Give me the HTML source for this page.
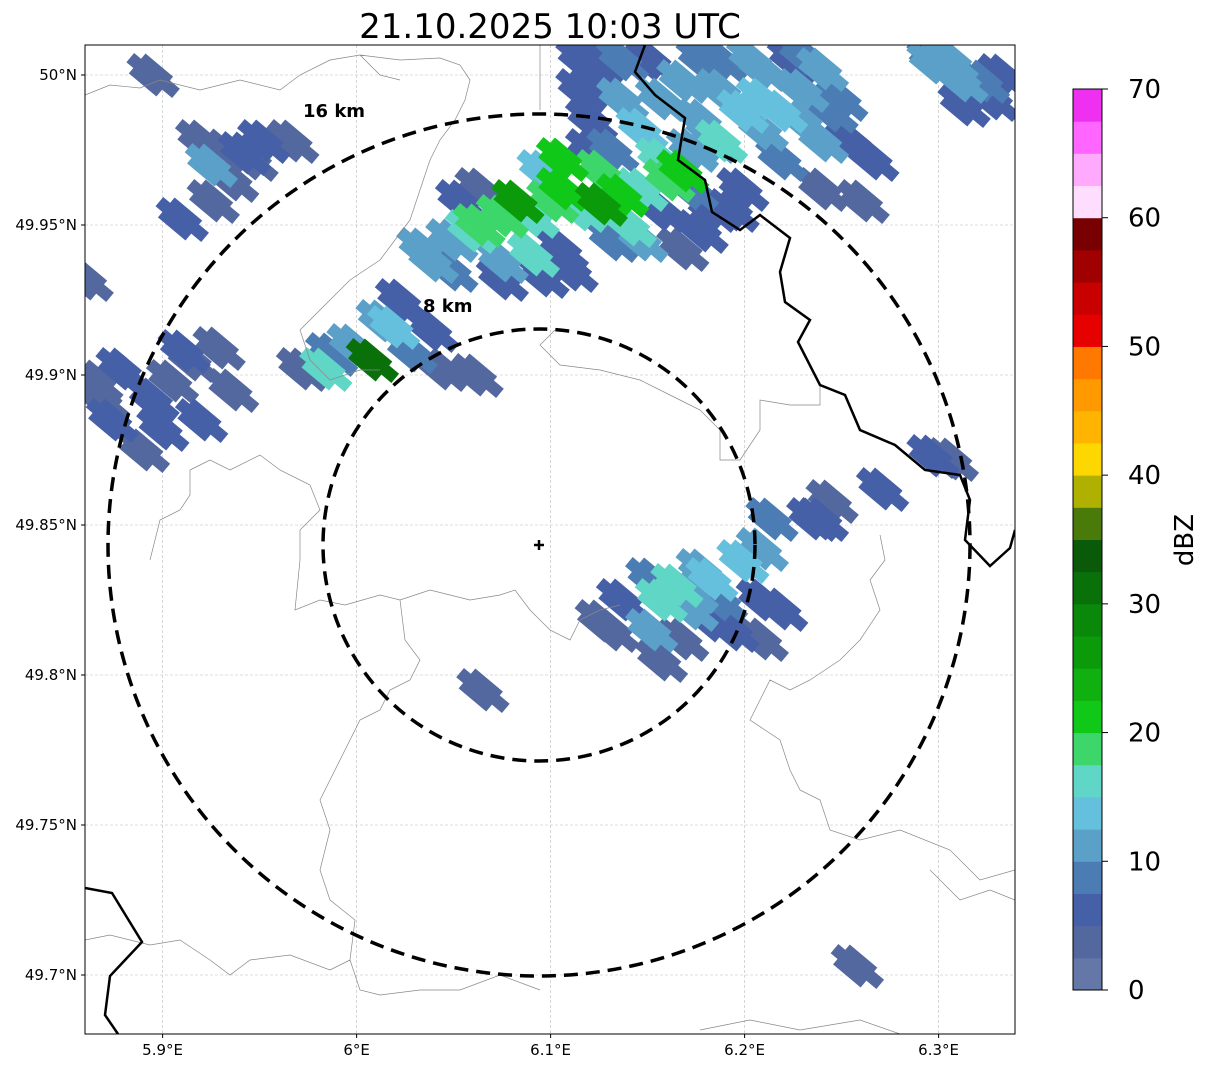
<!DOCTYPE html>
<html><head><meta charset="utf-8">
<style>
html,body{margin:0;padding:0;background:#fff;}
body{width:1207px;height:1069px;overflow:hidden;font-family:"DejaVu Sans","Liberation Sans",sans-serif;}
svg text{font-family:"DejaVu Sans","Liberation Sans",sans-serif;}
</style></head>
<body>
<svg id="chart" width="1207" height="1069" xmlns="http://www.w3.org/2000/svg">
<text x="550" y="38" font-size="34" text-anchor="middle">21.10.2025 10:03 UTC</text>
<defs><clipPath id="mapclip"><rect x="85" y="45" width="930" height="989"/></clipPath></defs>
<g id="grid"></g>
<g id="cells" clip-path="url(#mapclip)"></g>
<g clip-path="url(#mapclip)" fill="none">
<path stroke="#888" stroke-width="0.7" d="M85,95 L110,85 L140,88 L160,80 L200,90 L240,80 L280,90 L300,75 L330,60 L360,55 L400,60 L440,58 L460,65 L470,80 L465,100 L455,120 L440,140 L430,160 L420,190 L410,220 L395,240 L380,260 L350,280 L330,300 L300,330 L310,360 L330,380 L360,370 L380,370 M360,55 L380,75 L400,80 M540,45 L540,110 M555,330 L540,345 L560,365 L600,370 L640,380 L680,400 L700,410 L720,430 L720,460 L740,460 L760,430 L760,400 L790,405 L820,405 L820,385 M190,470 L210,460 L230,470 L260,455 L280,470 L310,485 L320,510 L300,530 L300,560 L295,610 L320,600 L345,605 L380,595 L400,600 L430,590 L470,600 L500,595 L515,590 L530,610 L550,630 L570,640 L580,620 L600,610 L620,605 M190,470 L190,495 L180,510 L160,520 L150,560 M400,600 L405,640 L420,660 L410,680 L390,690 L380,710 L360,720 L350,740 L340,760 L330,780 L320,800 L330,830 L320,870 L330,900 L355,920 L350,960 L360,990 L380,995 L420,990 L460,990 L500,975 L540,990 M760,700 L750,720 L780,740 L790,770 L800,790 L820,800 L830,830 L860,840 L900,830 L950,850 L980,880 L1015,870 M85,940 L110,935 L150,945 L180,940 L210,960 L230,975 L250,960 L290,955 L330,970 L350,960 M700,1030 L750,1020 L800,1030 L860,1020 L900,1034 M880,535 L885,560 L870,580 L880,610 L860,640 L840,660 L810,680 L790,690 L770,680 L760,700 M930,870 L960,900 L990,890 L1015,900"/>
<path stroke="#000" stroke-width="2.5" d="M645,45 L635,72 L655,95 L685,118 L678,160 L705,180 L712,212 L740,230 L760,215 L790,238 L780,272 L785,302 L810,320 L798,342 L820,385 L845,395 L860,430 L895,445 L925,470 L960,475 L970,500 L965,540 L990,566 L1010,548 L1015,530"/>
<path stroke="#000" stroke-width="2.5" d="M85,888 L112,893 L142,942 L110,976 L105,1015 L118,1034"/>
</g>
<g id="rings" fill="none" stroke="#000" stroke-width="3.5" stroke-dasharray="14,8">
<circle cx="539" cy="545" r="216"/>
<circle cx="539" cy="545" r="431"/>
</g>
<text x="303" y="117" font-size="18" font-weight="bold">16 km</text>
<text x="423" y="312" font-size="18" font-weight="bold">8 km</text>
<g stroke="#000" stroke-width="2.5"><line x1="534" y1="545" x2="544" y2="545"/><line x1="539" y1="540" x2="539" y2="550"/></g>
<rect x="85" y="45" width="930" height="989" fill="none" stroke="#000" stroke-width="1"/>
<g id="axes"></g>
<g id="cbar"></g>
</svg>
<script>
const lonTicks=[5.9,6.0,6.1,6.2,6.3];
const lonLabels=["5.9°E","6°E","6.1°E","6.2°E","6.3°E"];
const latTicks=[50.0,49.95,49.9,49.85,49.8,49.75,49.7];
const latLabels=["50°N","49.95°N","49.9°N","49.85°N","49.8°N","49.75°N","49.7°N"];
const cbTicks=[0,10,20,30,40,50,60,70];
const cbColors=["#6478a8","#5468a0","#4660a8","#4c7cb4","#5aa0c8","#64c0dc","#60d6c6","#3cd66a","#10c818","#10b010","#0a9a0a","#0a880a","#0a700a","#0a5a0a","#4a7a0a","#b0b000","#ffd700","#ffb400","#ff9900","#ff7800","#e60000","#c80000","#a00000","#780000","#ffddff","#ffaaff","#ff66ff","#f030f0"];
const cellLon=[6.048,6.058,6.074,6.082,6.090,6.100,6.105,6.115,6.125,6.136,6.146,6.125,6.105,6.095,6.156,6.167,6.172,6.187,6.177,6.198,6.208,6.218,6.229,6.239,6.244,6.254,6.218,6.198,6.182,6.167,6.146,6.105,6.074,6.053,6.063,6.038,6.125,6.151,6.177,6.203,6.229,6.136,6.156,6.120,6.146,6.131,6.115,6.208,6.239,6.265,6.172,6.306,6.322,6.332,6.296,6.312,6.012,5.997,5.986,5.971,5.983,6.007,6.027,6.038,6.043,6.022,6.061,6.018,5.868,5.873,5.894,5.904,5.899,5.919,5.914,5.889,5.935,5.860,5.929,5.951,5.935,5.925,5.909,5.894,5.966,5.924,5.941,6.136,6.151,6.156,6.172,6.177,6.187,6.198,6.208,6.167,6.151,6.131,6.208,6.218,6.234,6.244,6.213,6.156,6.193,6.270,6.296,6.306,6.164,6.182,6.064,6.257,6.090,6.062,6.110,6.140,6.160,6.182,
6.125,6.136,6.167,6.187,6.208,6.229,6.249,6.187,6.115,6.120,6.156,6.177,6.193,6.239,6.260,6.224,6.074,6.095,6.131,6.048,6.033,5.865,5.878,5.910,5.928,5.945,5.919,6.125,6.172,6.182,6.208,6.239,6.311,6.327,6.296];
const cellLat=[49.945,49.948,49.953,49.958,49.953,49.958,49.962,49.955,49.957,49.960,49.962,49.968,49.972,49.968,49.972,49.968,49.975,49.978,49.985,49.988,49.982,49.988,49.995,50.002,49.988,49.978,49.972,49.962,49.955,49.942,49.945,49.942,49.938,49.958,49.962,49.938,50.005,50.005,50.005,50.005,50.007,49.992,49.992,49.985,49.982,49.975,49.995,50.002,49.978,49.972,49.962,50.005,49.998,50.000,50.004,49.990,49.918,49.910,49.907,49.902,49.902,49.905,49.908,49.915,49.902,49.925,49.900,49.916,49.892,49.885,49.892,49.898,49.882,49.885,49.905,49.875,49.895,49.932,49.975,49.978,49.965,49.958,49.952,50.000,49.978,49.970,49.974,49.825,49.832,49.825,49.828,49.835,49.825,49.838,49.842,49.812,49.815,49.815,49.825,49.822,49.852,49.858,49.852,49.805,49.815,49.862,49.873,49.872,49.830,49.832,49.795,49.703,49.940,49.950,49.935,49.950,49.965,49.978,
49.998,50.005,49.998,49.995,49.992,49.985,49.992,50.005,50.005,49.975,49.955,49.948,49.955,49.962,49.958,50.005,49.932,49.933,49.945,49.935,49.942,49.898,49.902,49.908,49.909,49.972,49.978,49.818,49.822,49.818,49.812,49.852,49.998,49.992,50.005];
const cellDbz=[12,17,18,27,17,18,22,17,25,20,16,18,20,13,16,20,12,16,12,14,10,13,12,10,8,6,8,6,5,4,10,6,12,6,4,10,5,6,8,12,8,10,12,6,14,8,5,10,10,5,8,10,8,6,12,5,10,12,8,4,16,30,8,5,4,5,4,14,4,5,6,3,5,6,3,3,3,4,4,5,3,4,6,3,3,12,5,6,8,16,12,10,8,14,10,4,12,4,6,5,5,4,8,4,5,5,5,4,17,14,3,4,16,18,6,15,18,12,
6,8,10,12,14,10,8,8,5,6,6,5,5,4,4,6,5,5,8,8,10,4,6,5,4,4,4,4,10,6,4,5,10,6,8];

const NS='http://www.w3.org/2000/svg';
const X0=85,X1=1015,Y0=45,Y1=1034;
function xOf(lon){return 85+(lon-5.86)*1940;}
function yOf(lat){return 75+(50.0-lat)*3000;}
function mk(tag,attrs,parent){const e=document.createElementNS(NS,tag);for(const k in attrs)e.setAttribute(k,attrs[k]);parent.appendChild(e);return e;}
function colorOf(v){let i=Math.floor(v/2.5);if(i<0)i=0;if(i>27)i=27;return cbColors[i];}

const grid=document.getElementById('grid'),axes=document.getElementById('axes');
lonTicks.forEach((t,i)=>{const x=xOf(t);
 const l=mk('line',{x1:x,y1:Y0,x2:x,y2:Y1,stroke:'#bbb','stroke-width':0.6,'stroke-dasharray':'3,2'},grid);
 
 
 const tk=mk('line',{x1:x,y1:Y1,x2:x,y2:Y1+4,stroke:'#000'},axes);
 
 
 const tx=mk('text',{x:x,y:Y1+21,'font-size':15,'text-anchor':'middle'},axes);tx.textContent=lonLabels[i];
 
 
});
latTicks.forEach((t,i)=>{const y=yOf(t);
 const l=mk('line',{x1:X0,y1:y,x2:X1,y2:y,stroke:'#bbb','stroke-width':0.6,'stroke-dasharray':'3,2'},grid);
 
 
 const tk=mk('line',{x1:X0-4,y1:y,x2:X0,y2:y,stroke:'#000'},axes);
 
 
 const tx=mk('text',{x:X0-8,y:y+5,'font-size':15,'text-anchor':'end'},axes);tx.textContent=latLabels[i];
 
 
});

const cells=document.getElementById('cells');
const order=cellDbz.map((v,i)=>i).sort((a,b)=>cellDbz[a]-cellDbz[b]);
order.forEach(i=>{const cx=xOf(cellLon[i]),cy=yOf(cellLat[i]);
 const g=mk('g',{transform:`translate(${cx},${cy}) rotate(40)`},cells);
 
 
 const c=colorOf(cellDbz[i]);
 mk('rect',{x:-18,y:-13,width:36,height:26,fill:c},g);
 mk('rect',{x:-27,y:-6,width:18,height:12,fill:c},g);
 mk('rect',{x:10,y:-8,width:21,height:12,fill:c},g);
});

const cb=document.getElementById('cbar');
const cbX=1073,cbW=29,cbTop=89,cbBot=990;
function cbY(v){return cbBot-(v/70)*(cbBot-cbTop);}
cbColors.forEach((c,i)=>{const y1=cbY((i+1)*2.5),y2=cbY(i*2.5);
 const r=mk('rect',{x:cbX,y:y1,width:cbW,height:y2-y1+0.5,fill:c},cb);
 
 
});
const fr=mk('rect',{x:cbX,y:cbTop,width:cbW,height:cbBot-cbTop,fill:'none',stroke:'#000','stroke-width':1},cb);


cbTicks.forEach(t=>{const y=cbY(t);
 const tk=mk('line',{x1:cbX+cbW,y1:y,x2:cbX+cbW+6,y2:y,stroke:'#000'},cb);
 
 
 const tx=mk('text',{x:1128,y:y+9,'font-size':26,'text-anchor':'start'},cb);tx.textContent=t;
 
 
});
const lab=mk('text',{x:0,y:0,'font-size':26,'text-anchor':'middle',transform:'translate(1193,540) rotate(-90)'},cb);
lab.textContent='dBZ';


</script>
</body></html>
